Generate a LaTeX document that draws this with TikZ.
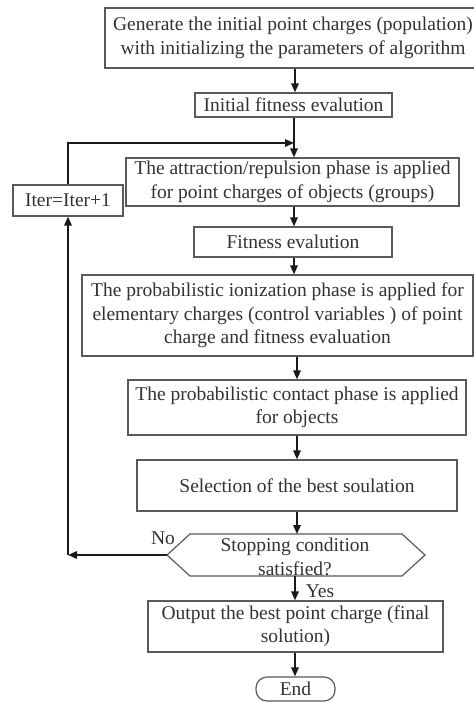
\documentclass[tikz,border=0pt]{standalone}
\usepackage{fontspec}
\setmainfont{Liberation Serif}
\usetikzlibrary{arrows.meta}
\definecolor{boxgray}{HTML}{5A5A5A}
\definecolor{txtgray}{HTML}{333333}
\definecolor{linecol}{HTML}{1A1A1A}
\newcommand\myfs{\fontsize{19.5}{23.4}\selectfont}
\begin{document}
\begin{tikzpicture}[x=1pt,y=1pt,
 box/.style={draw=boxgray, line width=1.2pt, text=txtgray, align=center, inner sep=0pt, font=\myfs},
 arr/.style={-{Triangle[length=9pt,width=7.5pt]}, line width=1.6pt, draw=linecol},
 lbl/.style={text=txtgray, inner sep=0pt, font=\myfs},
]
\useasboundingbox[fill=white] (0,0) rectangle (474,-702);

\node[box, minimum width=376, minimum height=60] (b1) at (293,-38)
  {Generate the initial point charges (population)\\with initializing the parameters of algorithm};
\node[box, minimum width=197, minimum height=24] (b2) at (293.5,-105) {Initial fitness evalution};
\node[box, minimum width=333, minimum height=48] (b3) at (292.5,-182)
  {The attraction/repulsion phase is applied\\for point charges of objects (groups)};
\node[box, minimum width=110, minimum height=31] (iter) at (68,-200.5) {Iter=Iter+1};
\node[box, minimum width=198, minimum height=30] (b4) at (293,-242) {Fitness evalution};
\node[box, minimum width=391, minimum height=81] (b5) at (277.5,-315.5)
  {The probabilistic ionization phase is applied for\\elementary charges (control variables ) of point\\charge and fitness evaluation};
\node[box, minimum width=338, minimum height=55] (b6) at (297,-407.5)
  {The probabilistic contact phase is applied\\for objects};
\node[box, minimum width=320, minimum height=51] (b7) at (297,-485.5) {Selection of the best soulation};

% hexagon decision
\coordinate (hw) at (167,-555);
\coordinate (he) at (425,-555);
\coordinate (hn) at (296,-534);
\coordinate (hs) at (296,-576);
\draw[draw=boxgray, line width=1.2pt] (hw) -- (190,-534) -- (402,-534) -- (he) -- (402,-576) -- (190,-576) -- cycle;
\node[lbl, align=center] (hex) at (295,-557) {Stopping condition\\satisfied?};

\node[box, minimum width=295, minimum height=51] (out) at (295.5,-626.5)
  {Output the best point charge (final\\solution)};
\node[box, rounded corners=11pt, minimum width=79, minimum height=24] (end) at (295.5,-689) {End};

\node[lbl] (no) at (163,-538) {No};
\node[lbl] (yes) at (320,-591) {Yes};

% connectors
\draw[arr] (b1.south -| 295,0) -- (b2.north -| 295,0);
\draw[arr] (b2.south -| 294,0) -- (b3.north -| 294,0);
\coordinate (join) at (294,-143);
\draw[arr] (iter.north) |- (join);
\draw[arr] (b3.south -| 294,0) -- (b4.north -| 294,0);
\draw[arr] (b4.south -| 294,0) -- (b5.north -| 294,0);
\draw[arr] (b5.south -| 297,0) -- (b6.north -| 297,0);
\draw[arr] (b6.south -| 297,0) -- (b7.north -| 297,0);
\draw[arr] (b7.south -| 297,0) -- (hn -| 297,0);
\coordinate (corner) at (68,-555);
\draw[arr] (hw) -- (corner);
\draw[arr] (corner) -- (iter.south);
\draw[arr] (hs -| 295,0) -- (out.north -| 295,0);
\draw[arr] (out.south -| 295,0) -- (end.north -| 295,0);
\end{tikzpicture}
\end{document}
